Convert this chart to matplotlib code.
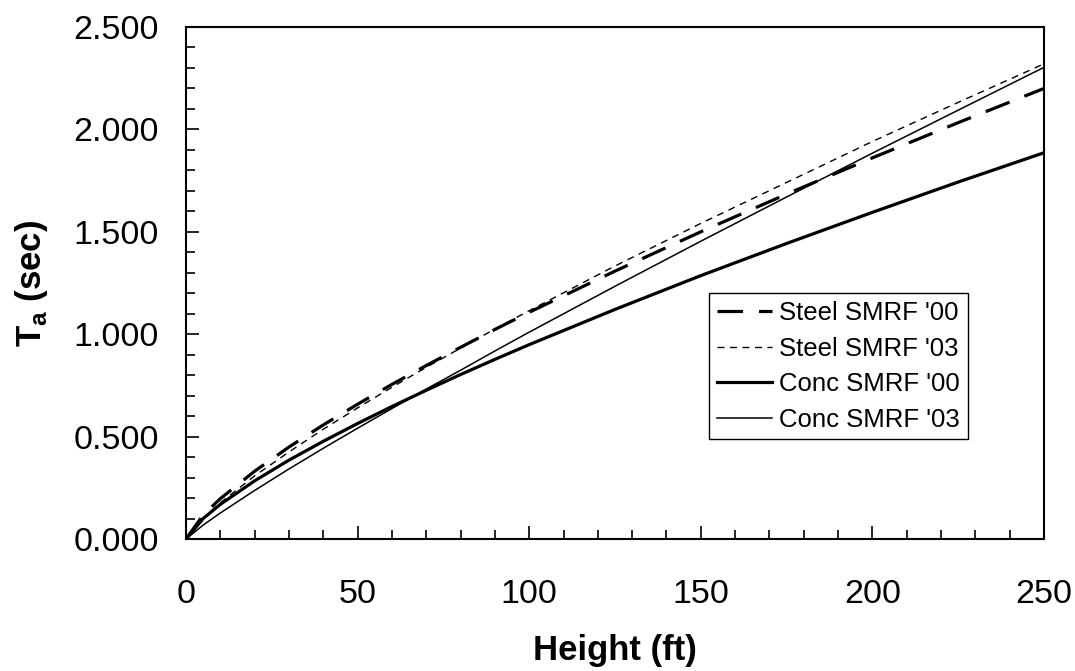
import matplotlib
matplotlib.use("Agg")
import matplotlib.pyplot as plt
from matplotlib.ticker import MultipleLocator, FormatStrFormatter

plt.rcParams['font.family'] = ['Liberation Sans', 'DejaVu Sans']

height_ft = [0, 5, 10, 20, 30, 40, 50, 60, 70, 80, 90, 100, 125, 150, 175, 200, 225, 250]
steel_smrf_00 = [0.000, 0.117, 0.197, 0.331, 0.449, 0.557, 0.658, 0.755, 0.847, 0.936, 1.023, 1.107,
                 1.308, 1.500, 1.684, 1.861, 2.033, 2.200]
steel_smrf_03 = [0.000, 0.101, 0.177, 0.308, 0.425, 0.536, 0.640, 0.741, 0.838, 0.932, 1.025, 1.115,
                 1.333, 1.541, 1.741, 1.941, 2.132, 2.320]
conc_smrf_00 = [0.000, 0.100, 0.169, 0.284, 0.385, 0.477, 0.564, 0.647, 0.726, 0.803, 0.877, 0.949,
                1.121, 1.286, 1.443, 1.595, 1.743, 1.886]
conc_smrf_03 = [0.000, 0.068, 0.127, 0.237, 0.342, 0.443, 0.541, 0.637, 0.732, 0.824, 0.918, 1.010,
                1.234, 1.454, 1.670, 1.884, 2.094, 2.303]
labels = ["Steel SMRF '00", "Steel SMRF '03", "Conc SMRF '00", "Conc SMRF '03"]

fig = plt.figure(figsize=(10.75, 6.71), dpi=100)
ax = fig.add_axes([186/1075, 1-539/671, (1044-186)/1075, (539-27)/671])

ax.plot(height_ft, steel_smrf_00, color='black', lw=2.3, ls=(0, (8, 5)), label=labels[0])
ax.plot(height_ft, steel_smrf_03, color='black', lw=1.0, ls=(0, (5, 4)), label=labels[1])
ax.plot(height_ft, conc_smrf_00, color='black', lw=2.3, ls='-', label=labels[2])
ax.plot(height_ft, conc_smrf_03, color='black', lw=1.1, ls='-', label=labels[3])

ax.set_xlim(0, 250)
ax.set_ylim(0, 2.5)
ax.xaxis.set_major_locator(MultipleLocator(50))
ax.xaxis.set_minor_locator(MultipleLocator(10))
ax.yaxis.set_major_locator(MultipleLocator(0.5))
ax.yaxis.set_minor_locator(MultipleLocator(0.1))
ax.yaxis.set_major_formatter(FormatStrFormatter('%.3f'))

ax.tick_params(which='both', direction='in', width=1.2, labelsize=24.5)
ax.tick_params(which='major', length=9.5)
ax.tick_params(which='minor', length=6.5)
ax.tick_params(axis='x', which='major', pad=29)
ax.tick_params(axis='y', which='major', pad=19.5)
for s in ax.spines.values():
    s.set_linewidth(1.5)

ax.set_xlabel('Height (ft)', fontsize=25, fontweight='bold', labelpad=17)
ax.set_ylabel(r'T$_\mathregular{a}$ (sec)', fontsize=25, fontweight='bold', labelpad=17)

leg = ax.legend(loc='upper left', bbox_to_anchor=(0.61, 0.48), fontsize=18.5,
                frameon=True, fancybox=False, edgecolor='black', framealpha=1,
                handlelength=2.15, handletextpad=0.27, labelspacing=0.45,
                borderpad=0.3, borderaxespad=0)
leg.get_frame().set_linewidth(1.0)

fig.savefig('out.png', dpi=100)
